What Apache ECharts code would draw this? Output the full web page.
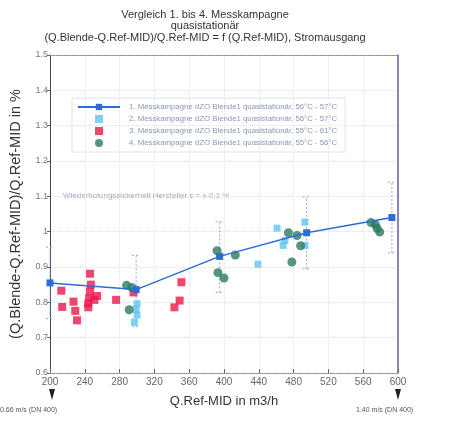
<!DOCTYPE html>
<html>
<head>
<meta charset="utf-8">
<script src="https://cdn.jsdelivr.net/npm/echarts@6/dist/echarts.min.js"></script>
<style>
html, body { margin: 0; padding: 0; background: #fff; }
#chart { width: 451px; height: 423px; }
</style>
</head>
<body>
<div id="chart"></div>
<script>
// axis ticks
var xTicks = [200, 240, 280, 320, 360, 400, 440, 480, 520, 560, 600];
var yTicks = [0.6, 0.7, 0.8, 0.9, 1, 1.1, 1.2, 1.3, 1.4, 1.5];

var seriesNames = [
    '1. Messkampagne dZO Blende1 quasistationär, 56°C - 57°C',
    '2. Messkampagne dZO Blende1 quasistationär, 56°C - 57°C',
    '3. Messkampagne dZO Blende1 quasistationär, 55°C - 61°C',
    '4. Messkampagne dZO Blende1 quasistationär, 55°C - 56°C'
];

// 1. Messkampagne (line) + error range
var camp1X = [200, 299, 395, 495, 593];
var camp1Y = [0.855, 0.836, 0.93, 0.997, 1.04];
var camp1Low = [0.754, 0.732, 0.828, 0.895, 0.94];
var camp1High = [0.956, 0.933, 1.028, 1.098, 1.14];

// 2. Messkampagne
var camp2X = [300, 299, 300, 297, 439, 461, 468, 470, 493, 493];
var camp2Y = [0.796, 0.78, 0.764, 0.744, 0.908, 1.01, 0.961, 0.975, 1.027, 0.961];

// 3. Messkampagne
var camp3X = [213, 214, 227, 229, 231, 246, 247, 246, 245, 244, 244, 254, 251, 276, 296, 351, 349, 343];
var camp3Y = [0.833, 0.787, 0.802, 0.776, 0.749, 0.881, 0.85, 0.831, 0.812, 0.797, 0.786, 0.818, 0.807, 0.807, 0.828, 0.857, 0.805, 0.786];

// 4. Messkampagne
var camp4X = [288, 294, 291, 392, 393, 400, 413, 474, 484, 488, 478, 569, 574, 576, 579];
var camp4Y = [0.848, 0.842, 0.779, 0.946, 0.884, 0.869, 0.934, 0.997, 0.989, 0.96, 0.914, 1.026, 1.02, 1.009, 0.999];

function pairs(xs, ys) {
    return xs.map(function (x, i) { return [x, ys[i]]; });
}

var squareIcon = 'path://M0,0h10v10h-10z';

var chart = echarts.init(document.getElementById('chart'));
chart.setOption({
    animation: false,
    textStyle: { fontFamily: 'Liberation Sans, Arial, sans-serif' },
    grid: { left: 50, right: 53, top: 55, bottom: 50 },
    graphic: [
        { type: 'text', x: 205, y: 9, style: { text: 'Vergleich 1. bis 4. Messkampagne\nquasistationär\n(Q.Blende-Q.Ref-MID)/Q.Ref-MID = f (Q.Ref-MID), Stromausgang', align: 'center', fontSize: 11, lineHeight: 11.5, fill: '#333' } },
        { type: 'text', x: 63, y: 192, style: { text: 'Wiederholungssicherheit Hersteller s = ± 0,1 %', fontSize: 8, fill: '#a0a8c0' } },
        { type: 'polygon', shape: { points: [[49, 389], [55, 389], [52, 400]] }, style: { fill: '#222' } },
        { type: 'polygon', shape: { points: [[395, 389], [401, 389], [398, 400]] }, style: { fill: '#222' } },
        { type: 'text', x: 0, y: 407, style: { text: '0.66 m/s (DN 400)', fontSize: 7, fill: '#555' } },
        { type: 'text', x: 356, y: 407, style: { text: '1.40 m/s (DN 400)', fontSize: 7, fill: '#555' } }
    ],
    legend: {
        orient: 'vertical',
        left: 72,
        top: 98,
        itemWidth: 42,
        itemHeight: 8,
        itemGap: 4,
        padding: [5, 8, 5, 5],
        borderColor: '#e2e2e2',
        borderWidth: 1,
        textStyle: { fontSize: 7.8, color: '#8a97b0', padding: [0, 0, 0, 4] },
        data: [
            { name: seriesNames[0] },
            { name: seriesNames[1], icon: squareIcon },
            { name: seriesNames[2], icon: squareIcon },
            { name: seriesNames[3], icon: 'circle' }
        ]
    },
    xAxis: [{
        type: 'value',
        min: 200,
        max: 600,
        interval: 40,
        name: 'Q.Ref-MID in m3/h',
        nameLocation: 'middle',
        nameGap: 22,
        nameTextStyle: { fontSize: 13, color: '#333' },
        axisLine: { lineStyle: { color: '#888', type: 'dotted' } },
        axisTick: { inside: true, length: 4, lineStyle: { color: '#666' } },
        axisLabel: { fontSize: 10, color: '#666', margin: 4 },
        splitLine: { show: true, lineStyle: { color: '#e4e4e4', type: 'dotted' } }
    }, {
        type: 'value',
        position: 'top',
        min: 200,
        max: 600,
        axisLine: { lineStyle: { color: '#888', type: 'dotted' } },
        axisTick: { show: false },
        axisLabel: { show: false },
        splitLine: { show: false }
    }],
    yAxis: [{
        type: 'value',
        min: 0.6,
        max: 1.5,
        interval: 0.1,
        name: '(Q.Blende-Q.Ref-MID)/Q.Ref-MID in %',
        nameLocation: 'middle',
        nameGap: 27,
        nameTextStyle: { fontSize: 14.5, color: '#333' },
        axisLine: { show: true, lineStyle: { color: '#444' } },
        axisTick: { show: true, length: 3, lineStyle: { color: '#666' } },
        axisLabel: { fontSize: 9, color: '#777', margin: 2 },
        splitLine: { show: true, lineStyle: { color: '#e0e0e0', type: 'dotted' } }
    }, {
        type: 'value',
        position: 'right',
        min: 0.6,
        max: 1.5,
        axisLine: { show: true, lineStyle: { color: '#6b5e96', width: 1.5 } },
        axisTick: { show: false },
        axisLabel: { show: false },
        splitLine: { show: false }
    }],
    series: [{
        type: 'custom',
        z: 1,
        silent: true,
        renderItem: function (params, api) {
            var x = api.value(0);
            var lo = api.coord([x, api.value(1)]);
            var hi = api.coord([x, api.value(2)]);
            var st = { stroke: '#8ea8dc', lineWidth: 1, lineDash: [2, 2] };
            return {
                type: 'group',
                children: [
                    { type: 'line', shape: { x1: lo[0], y1: lo[1], x2: hi[0], y2: hi[1] }, style: st },
                    { type: 'line', shape: { x1: lo[0] - 4, y1: lo[1], x2: lo[0] + 4, y2: lo[1] }, style: st },
                    { type: 'line', shape: { x1: hi[0] - 4, y1: hi[1], x2: hi[0] + 4, y2: hi[1] }, style: st }
                ]
            };
        },
        data: camp1X.map(function (x, i) { return [x, camp1Low[i], camp1High[i]]; })
    }, {
        name: seriesNames[1],
        type: 'scatter',
        symbol: 'rect',
        symbolSize: 7,
        itemStyle: { color: '#5cc6ee' },
        data: pairs(camp2X, camp2Y)
    }, {
        name: seriesNames[2],
        type: 'scatter',
        symbol: 'rect',
        symbolSize: 8,
        itemStyle: { color: '#e8194c' },
        data: pairs(camp3X, camp3Y)
    }, {
        name: seriesNames[3],
        type: 'scatter',
        symbol: 'circle',
        symbolSize: 9,
        itemStyle: { color: '#2a7a62' },
        data: pairs(camp4X, camp4Y)
    }, {
        name: seriesNames[0],
        type: 'line',
        z: 5,
        symbol: 'rect',
        symbolSize: 7,
        lineStyle: { width: 1.5, color: '#2d6bd6' },
        itemStyle: { color: '#2d6bd6' },
        data: pairs(camp1X, camp1Y)
    }]
});
</script>
</body>
</html>
